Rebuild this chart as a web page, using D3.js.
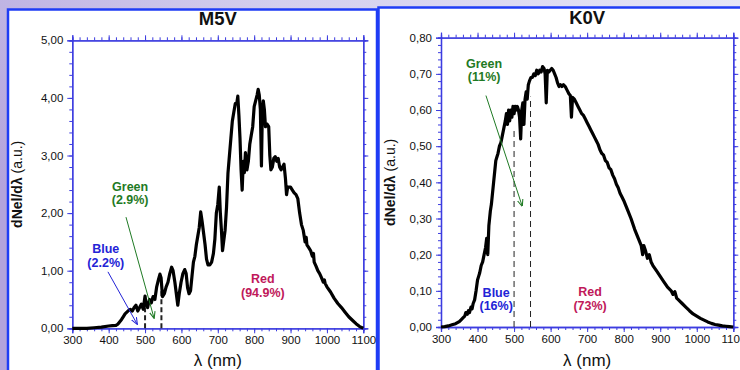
<!DOCTYPE html>
<html><head><meta charset="utf-8">
<script src="https://cdn.jsdelivr.net/npm/d3@7"></script>
<style>
html,body{margin:0;padding:0;overflow:hidden;}
svg{display:block;font-family:"Liberation Sans",Arial,Helvetica,sans-serif;}
</style></head><body>
<svg id="c" width="740" height="370"></svg>
<script>
// ---------- data ----------
const xTicks = [300,400,500,600,700,800,900,1000,1100];
const m5vYTicks = [0,1,2,3,4,5];
const k0vYTicks = [0,0.1,0.2,0.3,0.4,0.5,0.6,0.7,0.8];

const m5vLambda = [300,340,360,380,400,410,420,425,430,435,440,445,450,455,460,465,470,475,480,485,490,495,500,503,507,512,517,522,527,532,537,541,544,548,553,558,563,568,573,577,582,586,590,594,599,604,609,613,617,621,625,629,633,637,641,645,649,653,657,661,665,669,673,678,683,688,692,696,700,704,707,710,713,716,720,724,728,732,736,740,744,748,752,755,758,761,764,767,770,773,776,780,784,788,792,796,800,804,808,811,814,817,820,822,825,828,831,835,840,843,846,850,854,858,862,866,870,874,878,882,886,889,892,896,900,905,910,915,920,925,930,935,940,943,945,950,955,960,963,965,970,975,980,985,990,993,995,1000,1010,1020,1030,1040,1050,1060,1070,1080,1090,1100];
const m5vFlux = [0,0,0.01,0.02,0.04,0.045,0.05,0.07,0.11,0.15,0.2,0.25,0.28,0.31,0.33,0.3,0.36,0.4,0.3,0.36,0.42,0.33,0.56,0.4,0.36,0.5,0.44,0.55,0.5,0.72,0.85,0.94,0.88,0.55,0.6,0.72,0.8,0.95,1.06,1.0,0.8,0.6,0.4,0.6,0.8,0.95,1.02,0.95,0.7,0.6,0.65,0.9,1.15,1.25,1.45,1.6,1.75,2.02,1.85,1.65,1.45,1.2,1.1,1.1,1.15,1.3,1.55,2.0,2.15,2.45,2.0,1.7,1.35,1.5,1.7,2.1,2.7,3.0,3.3,3.6,3.75,3.9,3.9,4.03,3.7,3.3,2.75,2.4,2.9,2.7,3.05,2.75,2.9,3.2,3.35,3.5,3.85,3.95,4.05,4.15,4.05,3.8,2.82,3.6,3.95,3.8,3.5,3.55,3.5,3.0,2.75,2.8,2.95,2.98,2.9,2.95,2.8,2.75,2.8,2.85,2.6,2.32,2.45,2.45,2.45,2.4,2.35,2.32,2.25,2.0,1.8,1.7,1.5,1.58,1.45,1.4,1.35,1.25,1.3,1.15,1.08,1.0,0.95,0.88,0.8,0.84,0.78,0.72,0.63,0.52,0.43,0.36,0.28,0.2,0.14,0.08,0.03,0];

const k0vLambda = [300,310,320,330,340,350,355,360,365,368,372,375,378,382,385,388,392,396,400,403,406,410,414,418,422,425,428,431,435,438,441,444,447,450,453,456,460,464,468,472,476,479,482,485,488,491,494,497,500,503,506,509,512,515,518,521,524,527,530,533,536,539,542,546,550,554,558,562,566,570,574,578,582,585,588,591,595,599,603,607,611,615,619,623,627,631,635,640,645,650,654,657,660,665,670,675,680,685,690,695,700,705,710,715,720,725,730,735,740,745,750,755,760,765,770,775,780,785,790,795,800,810,820,830,840,848,852,855,860,865,870,875,880,890,900,910,920,930,935,940,945,950,960,970,980,990,1000,1010,1020,1030,1040,1050,1060,1070,1080,1090,1100];
const k0vFlux = [0,0.001,0.003,0.006,0.009,0.015,0.02,0.025,0.03,0.04,0.035,0.045,0.04,0.055,0.05,0.065,0.075,0.1,0.13,0.14,0.15,0.17,0.18,0.2,0.22,0.245,0.2,0.28,0.32,0.34,0.37,0.4,0.43,0.46,0.47,0.48,0.5,0.51,0.53,0.55,0.57,0.59,0.56,0.6,0.57,0.6,0.58,0.61,0.59,0.61,0.6,0.61,0.6,0.58,0.52,0.6,0.62,0.56,0.63,0.65,0.63,0.67,0.68,0.69,0.69,0.7,0.695,0.71,0.7,0.71,0.705,0.72,0.715,0.7,0.62,0.71,0.705,0.71,0.715,0.71,0.7,0.69,0.675,0.665,0.67,0.665,0.67,0.665,0.655,0.645,0.64,0.58,0.635,0.63,0.62,0.61,0.6,0.59,0.585,0.575,0.565,0.555,0.545,0.535,0.525,0.515,0.505,0.49,0.48,0.475,0.46,0.455,0.44,0.435,0.42,0.41,0.395,0.385,0.37,0.36,0.35,0.325,0.3,0.27,0.245,0.225,0.2,0.225,0.21,0.19,0.2,0.18,0.17,0.155,0.14,0.125,0.11,0.1,0.09,0.098,0.08,0.075,0.065,0.055,0.045,0.036,0.03,0.024,0.019,0.014,0.01,0.007,0.005,0.003,0.002,0.001,0];

const bandEdges = [500,545];
const m5vDashTop = [0.37,0.66];
const k0vDashTop = [0.553,0.637];

const m5vLabels = [
  {t:["Blue","(2.2%)"], c:"#2323d6", x:392, y:1.27},
  {t:["Green","(2.9%)"], c:"#1f7a24", x:459, y:2.35},
  {t:["Red","(94.9%)"], c:"#c0185a", x:824, y:0.75}
];
const m5vArrows = [
  {c:"#2323d6", x1:398, y1:0.98, x2:478, y2:0.075},
  {c:"#1f7a24", x1:447.6, y1:1.93, x2:524.6, y2:0.18}
];
const k0vLabels = [
  {t:["Green","(11%)"], c:"#1f7a24", x:418, y:0.711},
  {t:["Blue","(16%)"], c:"#2323d6", x:451, y:0.078},
  {t:["Red","(73%)"], c:"#c0185a", x:708, y:0.08}
];
const k0vArrows = [
  {c:"#1f7a24", x1:423, y1:0.64, x2:522, y2:0.335}
];

// ---------- drawing ----------
const svg = d3.select("#c");
const defs = svg.append("defs");
const bg = defs.append("linearGradient").attr("id","bg").attr("x1","0").attr("y1","0.5").attr("x2","1").attr("y2","0");
bg.append("stop").attr("offset","0").attr("stop-color","#b3a3dc");
bg.append("stop").attr("offset","0.5").attr("stop-color","#d4cfee");
bg.append("stop").attr("offset","1").attr("stop-color","#e6e6f6");
svg.append("rect").attr("width",740).attr("height",370).attr("fill","url(#bg)");

["#2323d6","#1f7a24"].forEach((c,i)=>{
  defs.append("marker").attr("id","ah"+i).attr("viewBox","0 0 10 10").attr("refX",9).attr("refY",5)
    .attr("markerWidth",7).attr("markerHeight",7).attr("orient","auto-start-reverse").attr("markerUnits","userSpaceOnUse")
    .append("path").attr("d","M0,1 L10,5 L0,9").attr("fill","none").attr("stroke",c).attr("stroke-width",1.5);
});

// panels
svg.append("rect").attr("x",8).attr("y",9.5).attr("width",369).attr("height",380)
  .attr("fill","#fff").attr("stroke","#1f3cf5").attr("stroke-width",2.5);
svg.append("rect").attr("x",378.5).attr("y",7.5).attr("width",380).attr("height",380)
  .attr("fill","#fff").attr("stroke","#1f3cf5").attr("stroke-width",2.5);

const axisCol = "#3c3ce0";
const fmt = v => d3.format(".2f")(v).replace(".",",");

function drawChart(o){
  const x = d3.scaleLinear().domain([300,1100]).range(o.xr);
  const y = d3.scaleLinear().domain([0,o.ymax]).range(o.yr);
  const g = svg.append("g");
  const minorX = d3.range(300,1100.01,20);
  const minorY = d3.range(0,o.ymax+1e-9,o.ymin);

  function styleAxis(sel){
    sel.select(".domain").attr("stroke",axisCol).attr("stroke-width",1.3);
    sel.selectAll(".tick line").attr("stroke",axisCol).attr("stroke-width",1);
    sel.selectAll(".tick text").attr("fill","#111").attr("font-size",11.5)
      .attr("font-family","'Liberation Sans',Arial,sans-serif");
  }
  // minor ticks
  [[d3.axisBottom(x),"translate(0,"+o.yr[0]+")"],[d3.axisTop(x),"translate(0,"+o.yr[1]+")"]].forEach(([a,t])=>{
    g.append("g").attr("transform",t).call(a.tickValues(minorX).tickSize(3).tickFormat("")).call(styleAxis);
  });
  [[d3.axisLeft(y),"translate("+o.xr[0]+",0)"],[d3.axisRight(y),"translate("+o.xr[1]+",0)"]].forEach(([a,t])=>{
    g.append("g").attr("transform",t).call(a.tickValues(minorY).tickSize(3).tickFormat("")).call(styleAxis);
  });
  // major ticks
  g.append("g").attr("transform","translate(0,"+o.yr[0]+")")
    .call(d3.axisBottom(x).tickValues(xTicks).tickSize(5).tickPadding(3).tickFormat(d3.format("d"))).call(styleAxis);
  g.append("g").attr("transform","translate(0,"+o.yr[1]+")")
    .call(d3.axisTop(x).tickValues(xTicks).tickSize(5).tickFormat("")).call(styleAxis);
  g.append("g").attr("transform","translate("+o.xr[0]+",0)")
    .call(d3.axisLeft(y).tickValues(o.yTicks).tickSize(5).tickPadding(4).tickFormat(fmt)).call(styleAxis);
  g.append("g").attr("transform","translate("+o.xr[1]+",0)")
    .call(d3.axisRight(y).tickValues(o.yTicks).tickSize(5).tickFormat("")).call(styleAxis);

  // dashed band edges
  g.selectAll(".dash").data(bandEdges).enter().append("line")
    .attr("x1",d=>x(d)).attr("x2",d=>x(d)).attr("y1",y(0)).attr("y2",(d,i)=>y(o.dashTop[i]))
    .attr("stroke","#222").attr("stroke-width",o.dashW).attr("stroke-dasharray",o.dashA);

  // curve
  const pts = o.lam.map((l,i)=>[l,o.flux[i]]);
  g.append("path").datum(pts)
    .attr("d",d3.line().x(d=>x(d[0])).y(d=>y(d[1])))
    .attr("fill","none").attr("stroke","#000").attr("stroke-width",3.2).attr("stroke-linejoin","round");

  // arrows
  o.arrows.forEach(a=>{
    g.append("line").attr("x1",x(a.x1)).attr("y1",y(a.y1)).attr("x2",x(a.x2)).attr("y2",y(a.y2))
      .attr("stroke",a.c).attr("stroke-width",1).attr("marker-end", a.c==="#2323d6"?"url(#ah0)":"url(#ah1)");
  });
  // labels
  o.labels.forEach(l=>{
    const t = g.append("text").attr("x",x(l.x)).attr("y",y(l.y)-2).attr("text-anchor","middle")
      .attr("fill",l.c).attr("font-weight","bold").attr("font-size",12.5);
    l.t.forEach((s,i)=>t.append("tspan").attr("x",x(l.x)).attr("dy",i?13.5:0).text(s));
  });

  // title
  const cx = (o.xr[0]+o.xr[1])/2;
  g.append("text").attr("x",cx).attr("y",o.titleY).attr("text-anchor","middle")
    .attr("font-weight","bold").attr("font-size",18.5).attr("fill","#111").text(o.title);
  // x title
  g.append("text").attr("x",cx).attr("y",366).attr("text-anchor","middle")
    .attr("font-size",17).attr("fill","#111").text("λ (nm)");
  // y title
  const cy = (o.yr[0]+o.yr[1])/2;
  const yt = g.append("text").attr("transform","translate("+o.ytX+","+cy+") rotate(-90)")
    .attr("text-anchor","middle").attr("font-size",14).attr("fill","#111");
  yt.append("tspan").attr("font-weight","bold").text("dNel/dλ");
  yt.append("tspan").text(" (a.u.)");
}

drawChart({xr:[72.3,363.3], yr:[328.3,40.3], ymax:5, ymin:0.2, yTicks:m5vYTicks,
  lam:m5vLambda, flux:m5vFlux, dashTop:m5vDashTop, dashW:2, dashA:"5,3",
  labels:m5vLabels, arrows:m5vArrows, title:"M5V", titleY:25, ytX:22});
drawChart({xr:[441,733.3], yr:[327,37.7], ymax:0.8, ymin:0.02, yTicks:k0vYTicks,
  lam:k0vLambda, flux:k0vFlux, dashTop:k0vDashTop, dashW:1, dashA:"6,4",
  labels:k0vLabels, arrows:k0vArrows, title:"K0V", titleY:24, ytX:395});
</script></body></html>
